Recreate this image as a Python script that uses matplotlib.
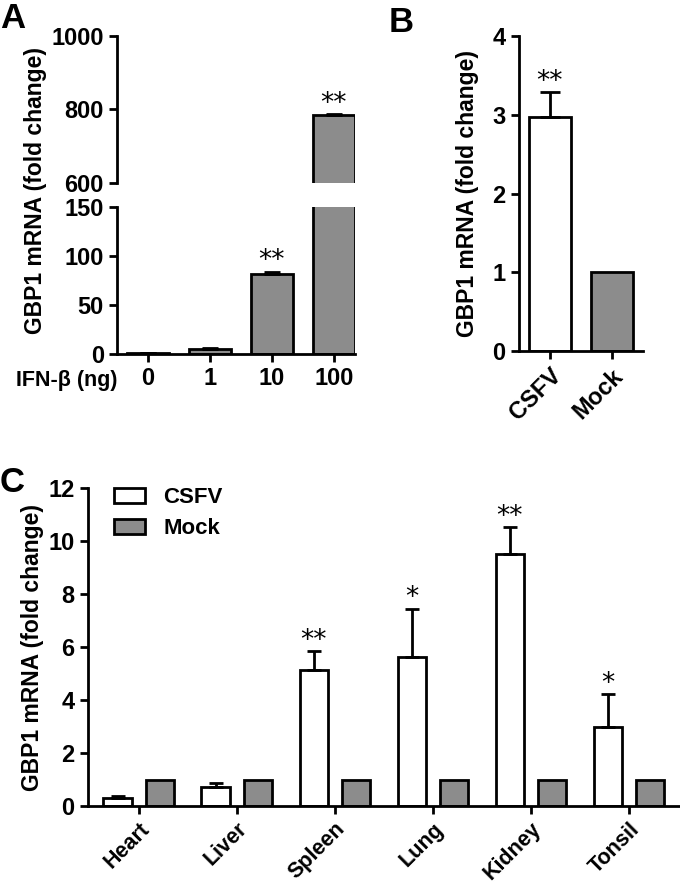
import numpy as np
import matplotlib
matplotlib.use('Agg')
import matplotlib.pyplot as plt

plt.rcParams['font.family'] = ['Liberation Sans', 'DejaVu Sans']
plt.rcParams['font.weight'] = 'bold'
plt.rcParams['axes.labelweight'] = 'bold'

# Panel A: IFN-beta dose response
doses = ['0', '1', '10', '100']
a_vals = [1.0, 5.0, 82.0, 784.0]
a_err = [0.3, 0.8, 2.0, 3.0]
a_sig = ['', '', '**', '**']

# Panel B: infected vs mock cells
b_groups = ['CSFV', 'Mock']
b_vals = [2.97, 1.0]
b_err = [0.32, 0.0]
b_sig = ['**', '']

# Panel C: tissues
tissues = ['Heart', 'Liver', 'Spleen', 'Lung', 'Kidney', 'Tonsil']
csfv_vals = [0.30, 0.73, 5.14, 5.64, 9.51, 2.99]
csfv_err = [0.07, 0.14, 0.72, 1.81, 1.01, 1.23]
mock_vals = [1.0, 1.0, 1.0, 1.0, 1.0, 1.0]
c_sig = ['', '', '**', '*', '**', '*']

GRAY = '#8c8c8c'
LW = 2.0


def style(ax, size=17):
    for s in ['top', 'right']:
        ax.spines[s].set_visible(False)
    for s in ['left', 'bottom']:
        ax.spines[s].set_linewidth(LW)
    ax.tick_params(width=LW, length=6, labelsize=size)


def stars(ax, xs, tops, marks, size=19):
    for x, t, m in zip(xs, tops, marks):
        if m:
            ax.annotate(m, (x, t), xytext=(0, -2), textcoords='offset points',
                        ha='center', va='bottom', fontsize=size, fontweight='normal',
                        family='DejaVu Sans', annotation_clip=False)


fig = plt.figure(figsize=(6.8, 8.88), dpi=100)

# ---- A ----
axA_hi = fig.add_axes([0.172, 0.794, 0.35, 0.1655])
axA_lo = fig.add_axes([0.172, 0.6014, 0.35, 0.1655])
xa = np.arange(len(doses))
for ax in (axA_hi, axA_lo):
    ax.bar(xa, a_vals, width=0.68, color=GRAY, edgecolor='k', linewidth=LW)
    ax.errorbar(xa, a_vals, yerr=[np.zeros(len(a_err)), a_err], fmt='none',
                ecolor='k', elinewidth=LW, capsize=6, capthick=LW)
    ax.set_xlim(-0.5, 3.34)
    style(ax)
axA_lo.set_ylim(0, 150)
axA_lo.set_yticks([0, 50, 100, 150])
axA_lo.set_xticks(xa)
axA_lo.set_xticklabels(doses)
axA_lo.tick_params(axis='x', pad=3.5)
axA_hi.set_ylim(600, 1000)
axA_hi.set_yticks([600, 800, 1000])
axA_hi.spines['bottom'].set_visible(False)
axA_hi.set_xticks([])
fig.text(0.052, 0.785, 'GBP1 mRNA (fold change)', rotation=90, ha='center',
         va='center', fontsize=16.5)
fig.text(118 / 680, 1 - 380 / 888, 'IFN-β (ng)', ha='right', va='center',
         fontsize=15.5)
tops = np.array(a_vals) + np.array(a_err)
stars(axA_lo, xa[:3], tops[:3], a_sig[:3])
stars(axA_hi, xa[3:], tops[3:], a_sig[3:])

# ---- B ----
axB = fig.add_axes([0.763, 0.6047, 0.182, 0.3547])
xb = np.arange(len(b_groups))
axB.bar(xb, b_vals, width=0.68, color=['white', GRAY], edgecolor='k',
        linewidth=LW)
axB.errorbar(xb[:1], b_vals[:1], yerr=[[0], b_err[:1]], fmt='none',
             ecolor='k', elinewidth=LW, capsize=7.5, capthick=LW)
axB.set_xlim(-0.5, 1.5)
axB.set_ylim(0, 4)
axB.set_yticks([0, 1, 2, 3, 4])
axB.set_xticks(xb)
axB.set_xticklabels(b_groups, rotation=45, ha='right', rotation_mode='anchor')
axB.set_ylabel('GBP1 mRNA (fold change)', fontsize=16.5, labelpad=10)
style(axB)
stars(axB, xb, np.array(b_vals) + np.array(b_err), b_sig)

# ---- C ----
axC = fig.add_axes([0.129, 0.0923, 0.871, 0.358])
xc = np.arange(len(tissues))
w = 0.29
axC.bar(xc - 0.215, csfv_vals, width=w, color='white', edgecolor='k',
        linewidth=LW, label='CSFV')
axC.bar(xc + 0.215, mock_vals, width=w, color=GRAY, edgecolor='k',
        linewidth=LW, label='Mock')
axC.errorbar(xc - 0.215, csfv_vals, yerr=[np.zeros(len(csfv_err)), csfv_err],
             fmt='none', ecolor='k', elinewidth=LW, capsize=5, capthick=LW)
axC.set_xlim(-0.52, 5.52)
axC.set_ylim(0, 12)
axC.set_yticks(range(0, 13, 2))
axC.set_xticks(xc)
axC.set_xticklabels(tissues, rotation=45, ha='right', rotation_mode='anchor')
axC.set_ylabel('GBP1 mRNA (fold change)', fontsize=16.5, labelpad=3)
style(axC, size=17)
axC.tick_params(axis='x', labelsize=15.5, pad=3)
stars(axC, xc - 0.215, np.array(csfv_vals) + np.array(csfv_err), c_sig)
axC.legend(loc='upper left', bbox_to_anchor=(0.03, 1.03), frameon=False,
           fontsize=16, handlelength=1.4, handleheight=0.7, labelspacing=0.45,
           handletextpad=0.8, borderaxespad=0)

# panel letters
fig.text(0.0, 0.998, 'A', fontsize=25, va='top', ha='left')
fig.text(0.572, 0.993, 'B', fontsize=25, va='top', ha='left')
fig.text(0.0, 0.475, 'C', fontsize=25, va='top', ha='left')

fig.savefig('out.png', dpi=100)
